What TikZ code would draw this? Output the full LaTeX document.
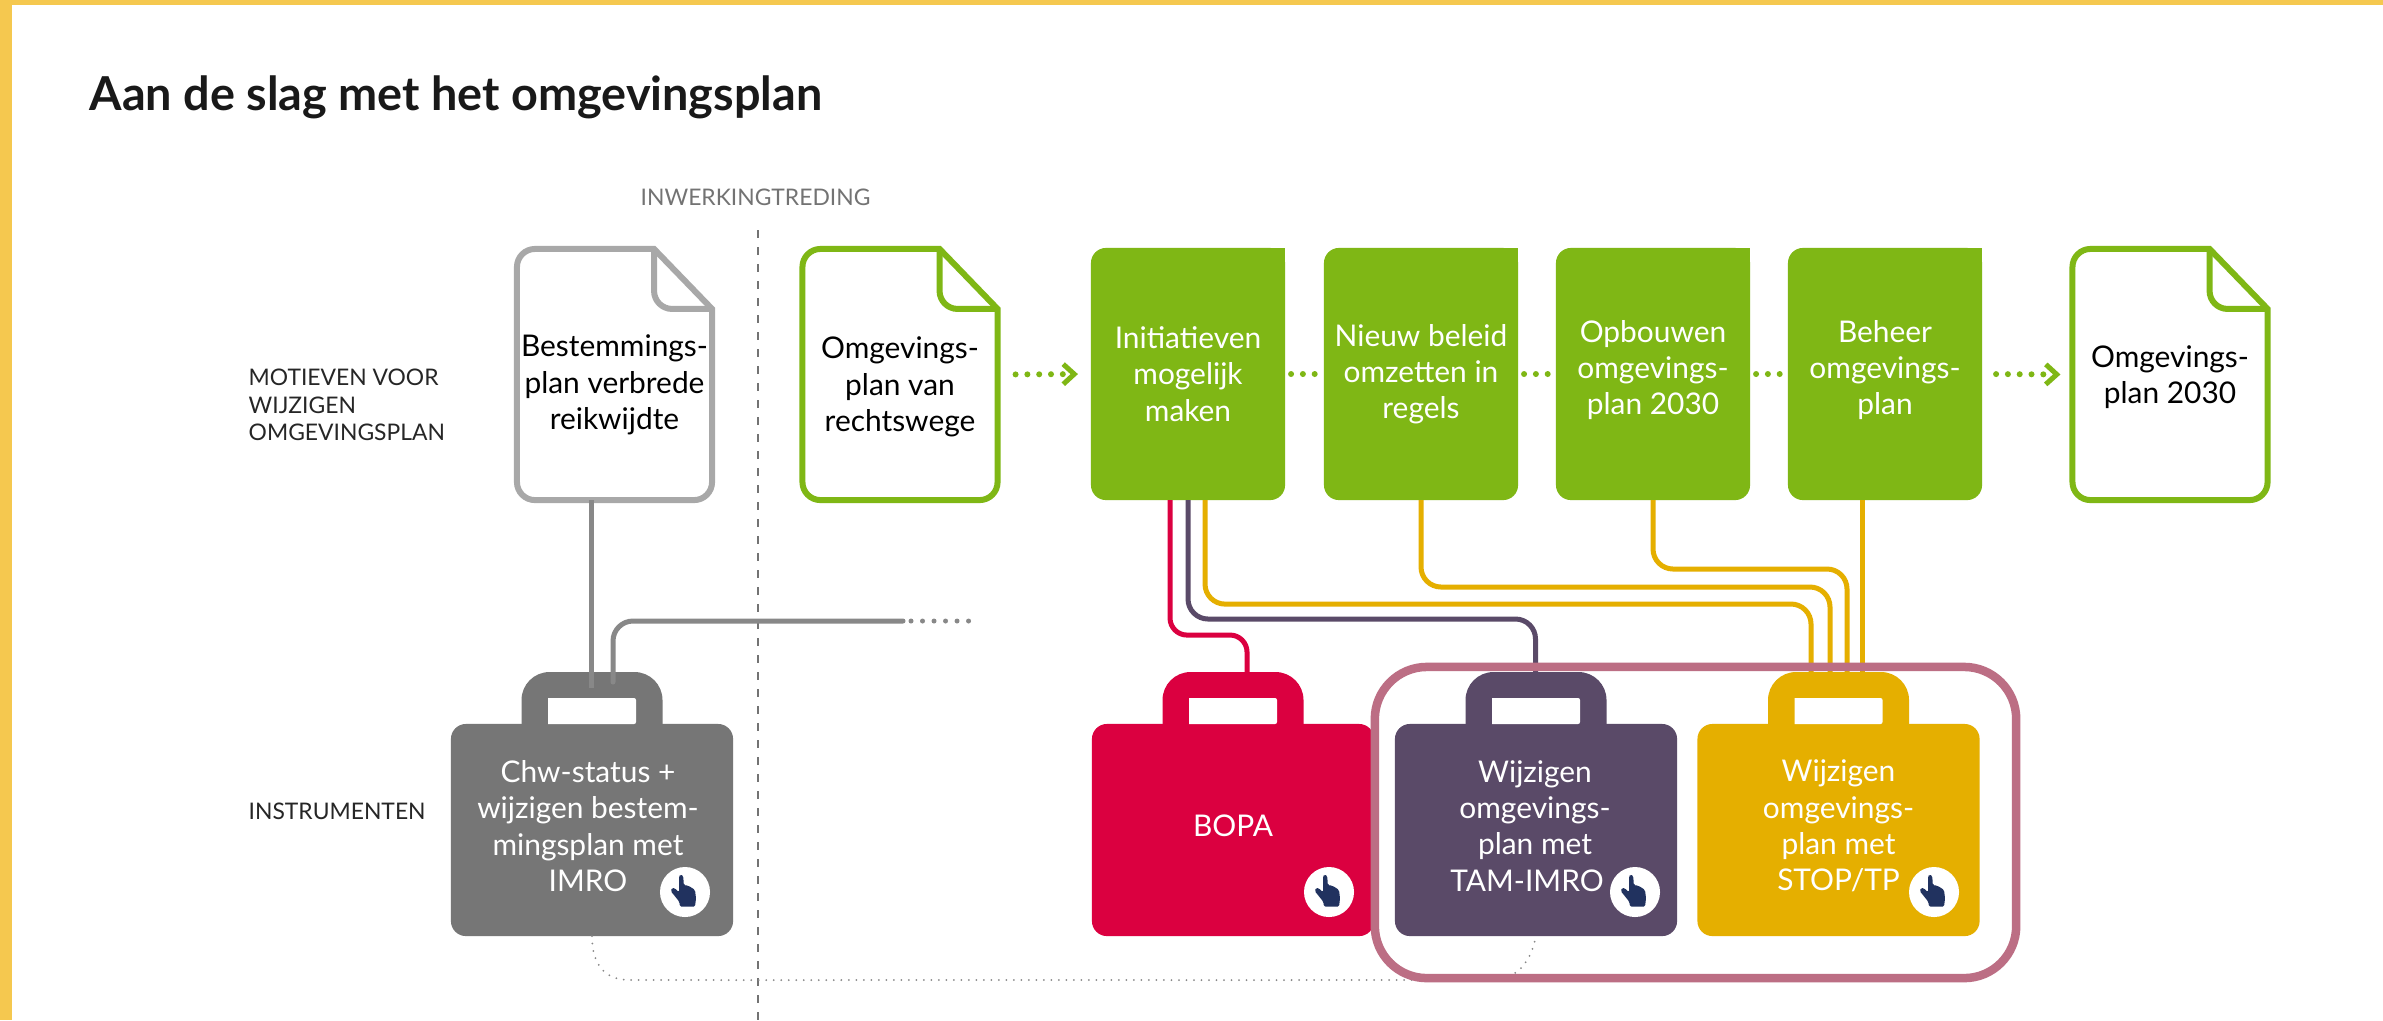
\documentclass[tikz,border=0pt]{standalone}
\usepackage{fontspec}
\setmainfont{Lato}
\usetikzlibrary{calc, arrows.meta}
\definecolor{framey}{HTML}{F5C84F}
\definecolor{stepgreen}{HTML}{7FB715}
\definecolor{docgrey}{HTML}{A8A8A8}
\definecolor{baggrey}{HTML}{767676}
\definecolor{linegrey}{HTML}{888888}
\definecolor{bagred}{HTML}{DB0040}
\definecolor{bagpurple}{HTML}{5A4A68}
\definecolor{bagyellow}{HTML}{E5AF00}
\definecolor{focuspink}{HTML}{BC6E84}
\definecolor{handblue}{HTML}{21325F}
\tikzset{
boxtext/.style={font=\fontsize{8.5}{10.3}\selectfont, align=center},
rowlabel/.style={font=\fontsize{6.5}{7.8}\selectfont, align=left, anchor=west, text=black!85, inner sep=0},
docnode/.style={minimum width=1.95cm, minimum height=2.51cm, inner sep=0, outer sep=0},
stepnode/.style={fill=stepgreen, rounded corners=0.15cm, minimum width=1.94cm, minimum height=2.52cm, inner sep=0, outer sep=0},
bagnode/.style={rounded corners=0.15cm, minimum width=2.82cm, minimum height=2.12cm, inner sep=0, outer sep=0},
handdot/.style={circle, fill=white, minimum size=0.5cm, inner sep=0, path picture={
    \fill[handblue, rounded corners=0.015cm, shift={(path picture bounding box.center)}]
    (-6,-16) -- (-4.3,-17.7) -- (-1.7,-16) -- (-1.3,-7) -- (3.3,-6.3) -- (6.7,-4.3) -- (10,-2) -- (11,6.3)
    -- (10,14.7) -- (-5,14.7) -- (-5.7,9.7) -- (-14.3,-1) -- (-13,-4.3) -- (-10,-3.7) -- (-6,0.3) -- cycle;}},
wire/.style={line width=0.05cm},
dots/.style={stepgreen, line width=0.06cm, line cap=round, dash pattern=on 0cm off 0.118cm},
dotarrow/.style={dots, -{Straight Barb[length=0.11cm, width=0.2cm, line width=0.05cm]}},
}
% page of paper with a folded corner
\newcommand{\docfile}[5]{
    \node[docnode] (#1) at (#2,374.5) {};
    \node[boxtext] (#1text) at (#2,#3) {#5};
    \draw[#4, line width=0.06cm] ($(#1.north)$) [sharp corners] -- ($(#1.north east)+(-58,0)$) -- ($(#1.north east)+(0,60)$)
        [rounded corners=0.18cm] -- (#1.south east) -- (#1.south west) -- (#1.north west) -- (#1.north);
    \draw[#4, line width=0.06cm, rounded corners=0.18cm] ($(#1.north east)+(-58,0)$) -- ($(#1.north east)+(-58,60)$) -- ($(#1.north east)+(0,60)$);
}
\newcommand{\stepbox}[4]{
    \node[stepnode] (#1) at (#2,374) {};
    \fill[stepgreen] ($(#1.north east)+(-20,0)$) rectangle ($(#1.north east)+(0,20)$);
    \node[boxtext, text=white] (#1text) at (#2,#3) {#4};
}
% case with a handle, text on the body
\newcommand{\toolbag}[5]{
    \node[bagnode, fill=#4] (#1) at (#2,830) {};
    \coordinate (#1top) at (#2,672);
    \fill[#4, rounded corners=0.28cm] ($(#1top)+(-70.5,90)$) -- ($(#1top)+(-70.5,0)$) -- ($(#1top)+(70.5,0)$) -- ($(#1top)+(70.5,90)$) -- cycle;
    \fill[white, rounded corners=0.02cm] ($(#1top)+(-44,26)$) -- ($(#1top)+(44,26)$) -- ($(#1top)+(44,52)$) [sharp corners] -- ($(#1top)+(-44,52)$) -- cycle;
    \node[boxtext, text=white] (#1text) at (#3,826) {#5};
}

\begin{document}
\begin{tikzpicture}[x=0.01cm, y=-0.01cm]
    \useasboundingbox (0,0) rectangle (2383,1020);
    %page
    \fill[framey] (0,0) rectangle (2383,1020);
    \fill[white] (12,5) rectangle (2383,1020);

    %title and labels
    \node[anchor=base west, inner sep=0, font=\fontsize{13.3}{16}\bfseries\selectfont, text=black!90] (title) at (89,110) {Aan de slag met het omgevingsplan};
    \node[rowlabel, text=black!55] (inwerking) at (640,197) {INWERKINGTREDING};
    \node[rowlabel] (motieven) at (248,405) {MOTIEVEN VOOR\\WIJZIGEN\\OMGEVINGSPLAN};
    \node[rowlabel] (instrumenten) at (248,811) {INSTRUMENTEN};

    %divider
    \coordinate (dividertop) at (757.5,230);
    \coordinate (dividerend) at (757.5,1020);
    \draw[black!55, line width=0.02cm, dash pattern=on 0.08cm off 0.09cm] (dividertop) -- (dividerend);

    %documents
    \docfile{doca}{614.5}{385}{docgrey}{Bestemmings-\\plan verbrede\\reikwijdte}
    \docfile{docb}{900}{387}{stepgreen}{Omgevings-\\plan van\\rechtswege}
    \docfile{docc}{2170}{377}{stepgreen}{Omgevings-\\plan 2030}

    %steps
    \stepbox{stepa}{1188}{374}{Initiatieven\\mogelijk\\maken}
    \stepbox{stepb}{1421}{374}{Nieuw beleid\\omzetten in\\regels}
    \stepbox{stepc}{1653}{370}{Opbouwen\\omgevings-\\plan 2030}
    \stepbox{stepd}{1885}{370}{Beheer\\omgevings-\\plan}

    %dotted arrows
    \draw[dotarrow, shorten <=0.18cm, shorten >=0.13cm] (docb.east) -- (stepa.west);
    \draw[dots, shorten <=0.06cm, shorten >=0.06cm] (stepa.east) -- (stepb.west);
    \draw[dots, shorten <=0.06cm, shorten >=0.06cm] (stepb.east) -- (stepc.west);
    \draw[dots, shorten <=0.06cm, shorten >=0.06cm] (stepc.east) -- (stepd.west);
    \draw[dotarrow, shorten <=0.14cm, shorten >=0.12cm] (stepd.east) -- (docc.west);

    %line ends on the bags
    \coordinate (redin) at (1247,672);
    \coordinate (yella) at (1811,672);
    \coordinate (yellb) at (1830,672);
    \coordinate (yellc) at (1847,672);
    \coordinate (yelld) at (1862,672);

    %curves
    \draw[wire, bagred, rounded corners=0.17cm] ($(stepa.south)+(-18,0)$) -- ++(0,135) -- (redin |- 0,635) -- (redin);
    \draw[wire, bagpurple, rounded corners=0.2cm] (stepa.south) -- (stepa.south |- 0,619) -- (1535.5,619) -- (1535.5,672);
    \draw[wire, bagyellow, rounded corners=0.2cm] ($(stepa.south)+(17,0)$) -- ++(0,104) -- (yella |- 0,604) -- (yella);
    \draw[wire, bagyellow, rounded corners=0.2cm] (stepb.south) -- (stepb.south |- 0,587) -- (yellb |- 0,587) -- (yellb);
    \draw[wire, bagyellow, rounded corners=0.2cm] (stepc.south) -- (stepc.south |- 0,569) -- (yellc |- 0,569) -- (yellc);
    \draw[wire, bagyellow] (yelld |- stepd.south) -- (yelld);

    %bags
    \toolbag{chw}{592}{588}{baggrey}{Chw-status +\\wijzigen bestem-\\mingsplan met\\IMRO}
    \toolbag{bopa}{1233}{1233}{bagred}{BOPA}
    \toolbag{tam}{1536}{1535}{bagpurple}{Wijzigen\\omgevings-\\plan met\\TAM-IMRO\hspace*{0.16cm}}
    \toolbag{stop}{1838.5}{1838.5}{bagyellow}{Wijzigen\\omgevings-\\plan met\\STOP/TP}
    \draw[linegrey, line width=0.02cm, line cap=round, dash pattern=on 0cm off 0.075cm] (chw.south) .. controls (592,965) and (605,980) .. (630,980) -- (1490,980) .. controls (1515,980) and (1530,965) .. (tam.south);

    %hands
    \node[handdot] (handa) at (685,892) {};
    \node[handdot] (handb) at (1329,892) {};
    \node[handdot] (handc) at (1635,892) {};
    \node[handdot] (handd) at (1934,892) {};

    %grey lines into the first bag
    \coordinate (chwa) at (591,688);
    \coordinate (chwb) at (613,682);
    \coordinate (greyend) at (903,621);
    \coordinate (dota) at (911,621);
    \coordinate (dotb) at (971,621);
    \draw[wire, linegrey] (chwa |- doca.south) -- (chwa);
    \draw[wire, linegrey, line cap=round, rounded corners=0.2cm] (chwb) -- (chwb |- greyend) -- (greyend);
    \draw[linegrey, line width=0.05cm, line cap=round, dash pattern=on 0cm off 0.115cm] (dota) -- (dotb);

    %selection
    \node[draw=focuspink, line width=0.085cm, rounded corners=0.52cm, minimum width=6.41cm, minimum height=3.11cm, inner sep=0] (focus) at (1695.5,822.5) {};
\end{tikzpicture}
\end{document}
